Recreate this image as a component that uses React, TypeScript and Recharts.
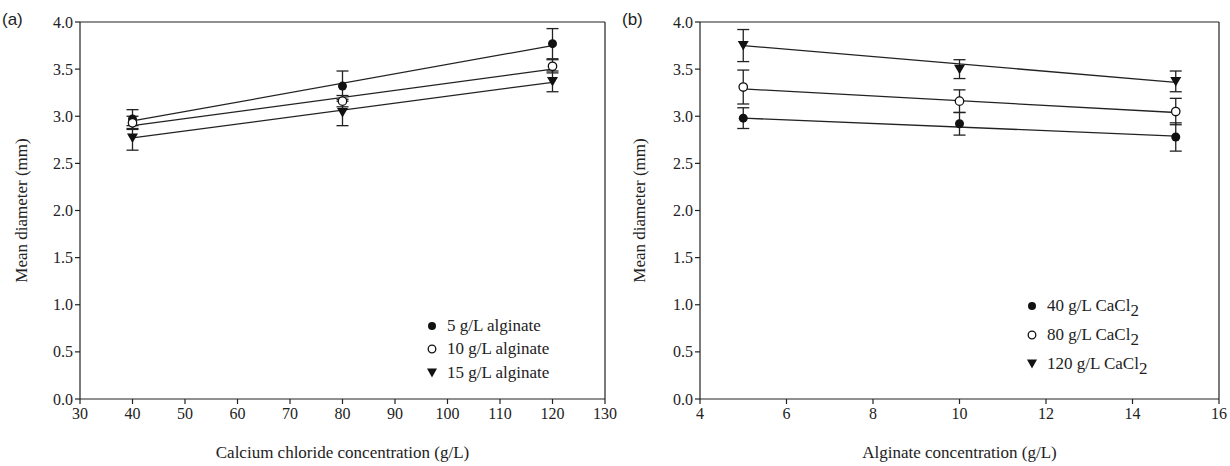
import {
  ErrorBar,
  ReferenceLine,
  Scatter,
  ScatterChart,
  XAxis,
  YAxis,
} from 'recharts'

// panel (a): x = calcium chloride (g/L)
const caclLevels = [40, 80, 120]
const alg5 = [2.97, 3.32, 3.77]
const alg5Err = [0.1, 0.16, 0.16]
const alg10 = [2.93, 3.16, 3.53]
const alg10Err = [0.07, 0.06, 0.07]
const alg15 = [2.77, 3.04, 3.37]
const alg15Err = [0.13, 0.14, 0.11]
// fitted lines, read at the ends (40 and 120)
const caclFitX = [40, 120]
const alg5Fit = [2.95, 3.75]
const alg10Fit = [2.9, 3.5]
const alg15Fit = [2.77, 3.36]

// panel (b): x = alginate (g/L)
const algLevels = [5, 10, 15]
const ca40 = [2.98, 2.92, 2.78]
const ca40Err = [0.11, 0.12, 0.15]
const ca80 = [3.31, 3.16, 3.05]
const ca80Err = [0.18, 0.12, 0.14]
const ca120 = [3.75, 3.5, 3.37]
const ca120Err = [0.17, 0.1, 0.11]
const algFitX = [5, 15]
const ca40Fit = [2.98, 2.79]
const ca80Fit = [3.29, 3.04]
const ca120Fit = [3.75, 3.36]

const caclTicks = [30, 40, 50, 60, 70, 80, 90, 100, 110, 120, 130]
const algTicks = [4, 6, 8, 10, 12, 14, 16]
const diaTicks = [0, 0.5, 1, 1.5, 2, 2.5, 3, 3.5, 4]

const legendA = ['5 g/L alginate', '10 g/L alginate', '15 g/L alginate']
const legendB = ['40', '80', '120']

const INK = '#222'
const SERIF = '"Liberation Serif", "Times New Roman", serif'

type Pt = { x: number; y: number; err?: number }

function points(xs: number[], ys: number[], errs?: number[]): Pt[] {
  return xs.map((x, i) => ({ x, y: ys[i], err: errs ? errs[i] : undefined }))
}

const FilledDot = (p: any) => <circle cx={p.cx} cy={p.cy} r={4.5} fill="#111" />
const OpenDot = (p: any) => (
  <circle cx={p.cx} cy={p.cy} r={4.2} fill="#fff" stroke="#111" strokeWidth={1.3} />
)
const DownTri = (p: any) => (
  <path d={`M${p.cx - 5.5},${p.cy - 4.5}L${p.cx + 5.5},${p.cy - 4.5}L${p.cx},${p.cy + 5}Z`} fill="#111" />
)
const NoDot = () => <g />

const XTick = (p: any) => (
  <text x={p.x} y={p.y} dy="0.8em" textAnchor="middle" style={{ fontFamily: SERIF, fontSize: 16, fill: INK }}>
    {p.payload.value}
  </text>
)
const YTick = (p: any) => (
  <text x={p.x} y={p.y} dy="0.35em" textAnchor="end" style={{ fontFamily: SERIF, fontSize: 16, fill: INK }}>
    {Number(p.payload.value).toFixed(1)}
  </text>
)

const kinds = ['filled', 'open', 'tri']

function Icon({ kind }: { kind: string }) {
  return (
    <svg width={12} height={12} style={{ marginRight: 9, verticalAlign: 'middle' }}>
      {kind === 'filled' && <circle cx={6} cy={6} r={4} fill="#111" />}
      {kind === 'open' && <circle cx={6} cy={6} r={3.8} fill="#fff" stroke="#111" strokeWidth={1.3} />}
      {kind === 'tri' && <path d="M1,1.5L11,1.5L6,10.5Z" fill="#111" />}
    </svg>
  )
}

const titleStyle = { fontFamily: SERIF, fontSize: 17, fill: INK }
const axisLine = { stroke: INK, strokeWidth: 1.2 }
const lineStyle = { stroke: INK, strokeWidth: 1.3 }

export default function App() {
  return (
    <div style={{ position: 'absolute', left: 0, top: 0, width: 1230, height: 466, background: '#fff', fontFamily: SERIF }}>
      <div style={{ position: 'absolute', left: 2, top: 10, fontFamily: '"Liberation Sans", Arial, sans-serif', fontSize: 17, color: INK }}>
        (a)
      </div>
      <div style={{ position: 'absolute', left: 622, top: 10, fontFamily: '"Liberation Sans", Arial, sans-serif', fontSize: 17, color: INK }}>
        (b)
      </div>

      <div style={{ position: 'absolute', left: 0, top: 0 }}>
        <ScatterChart width={620} height={466} margin={{ top: 22, right: 15, bottom: 0, left: 0 }}>
          <XAxis
            type="number"
            dataKey="x"
            domain={[30, 130]}
            ticks={caclTicks}
            height={67}
            tick={XTick}
            tickSize={5}
            axisLine={axisLine}
            tickLine={axisLine}
            label={{ value: 'Calcium chloride concentration (g/L)', position: 'insideBottom', offset: 8, style: titleStyle }}
          />
          <YAxis
            type="number"
            dataKey="y"
            domain={[0, 4]}
            ticks={diaTicks}
            width={80}
            tick={YTick}
            tickSize={5}
            axisLine={axisLine}
            tickLine={axisLine}
            label={{ value: 'Mean diameter (mm)', angle: -90, position: 'insideLeft', offset: 21, style: { ...titleStyle, textAnchor: 'middle' } }}
          />
          <ReferenceLine y={4} stroke={INK} strokeWidth={1.2} />
          <ReferenceLine x={130} stroke={INK} strokeWidth={1.2} />
          <Scatter data={points(caclFitX, alg5Fit)} line={lineStyle} shape={NoDot} isAnimationActive={false} />
          <Scatter data={points(caclFitX, alg10Fit)} line={lineStyle} shape={NoDot} isAnimationActive={false} />
          <Scatter data={points(caclFitX, alg15Fit)} line={lineStyle} shape={NoDot} isAnimationActive={false} />
          <Scatter data={points(caclLevels, alg5, alg5Err)} shape={FilledDot} isAnimationActive={false}>
            <ErrorBar dataKey="err" direction="y" width={6} stroke={INK} strokeWidth={1.3} />
          </Scatter>
          <Scatter data={points(caclLevels, alg10, alg10Err)} shape={OpenDot} isAnimationActive={false}>
            <ErrorBar dataKey="err" direction="y" width={6} stroke={INK} strokeWidth={1.3} />
          </Scatter>
          <Scatter data={points(caclLevels, alg15, alg15Err)} shape={DownTri} isAnimationActive={false}>
            <ErrorBar dataKey="err" direction="y" width={6} stroke={INK} strokeWidth={1.3} />
          </Scatter>
        </ScatterChart>
      </div>

      <div style={{ position: 'absolute', left: 426, top: 314, fontSize: 17, color: INK, lineHeight: '22.5px', whiteSpace: 'nowrap' }}>
        {legendA.map((t, i) => (
          <div key={t}>
            <Icon kind={kinds[i]} />
            <span style={{ verticalAlign: 'middle' }}>{t}</span>
          </div>
        ))}
      </div>

      <div style={{ position: 'absolute', left: 615, top: 0 }}>
        <ScatterChart width={615} height={466} margin={{ top: 22, right: 11, bottom: 0, left: 0 }}>
          <XAxis
            type="number"
            dataKey="x"
            domain={[4, 16]}
            ticks={algTicks}
            height={67}
            tick={XTick}
            tickSize={5}
            axisLine={axisLine}
            tickLine={axisLine}
            label={{ value: 'Alginate concentration (g/L)', position: 'insideBottom', offset: 8, style: titleStyle }}
          />
          <YAxis
            type="number"
            dataKey="y"
            domain={[0, 4]}
            ticks={diaTicks}
            width={85}
            tick={YTick}
            tickSize={5}
            axisLine={axisLine}
            tickLine={axisLine}
            label={{ value: 'Mean diameter (mm)', angle: -90, position: 'insideLeft', offset: 24, style: { ...titleStyle, textAnchor: 'middle' } }}
          />
          <ReferenceLine y={4} stroke={INK} strokeWidth={1.2} />
          <ReferenceLine x={16} stroke={INK} strokeWidth={1.2} />
          <Scatter data={points(algFitX, ca40Fit)} line={lineStyle} shape={NoDot} isAnimationActive={false} />
          <Scatter data={points(algFitX, ca80Fit)} line={lineStyle} shape={NoDot} isAnimationActive={false} />
          <Scatter data={points(algFitX, ca120Fit)} line={lineStyle} shape={NoDot} isAnimationActive={false} />
          <Scatter data={points(algLevels, ca40, ca40Err)} shape={FilledDot} isAnimationActive={false}>
            <ErrorBar dataKey="err" direction="y" width={6} stroke={INK} strokeWidth={1.3} />
          </Scatter>
          <Scatter data={points(algLevels, ca80, ca80Err)} shape={OpenDot} isAnimationActive={false}>
            <ErrorBar dataKey="err" direction="y" width={6} stroke={INK} strokeWidth={1.3} />
          </Scatter>
          <Scatter data={points(algLevels, ca120, ca120Err)} shape={DownTri} isAnimationActive={false}>
            <ErrorBar dataKey="err" direction="y" width={6} stroke={INK} strokeWidth={1.3} />
          </Scatter>
        </ScatterChart>
      </div>

      <div style={{ position: 'absolute', left: 1026, top: 291, fontSize: 17, color: INK, lineHeight: '28px', whiteSpace: 'nowrap' }}>
        {legendB.map((t, i) => (
          <div key={t}>
            <Icon kind={kinds[i]} />
            <span style={{ verticalAlign: 'middle' }}>
              {t} g/L CaCl<span style={{ position: 'relative', top: 5 }}>2</span>
            </span>
          </div>
        ))}
      </div>
    </div>
  )
}
